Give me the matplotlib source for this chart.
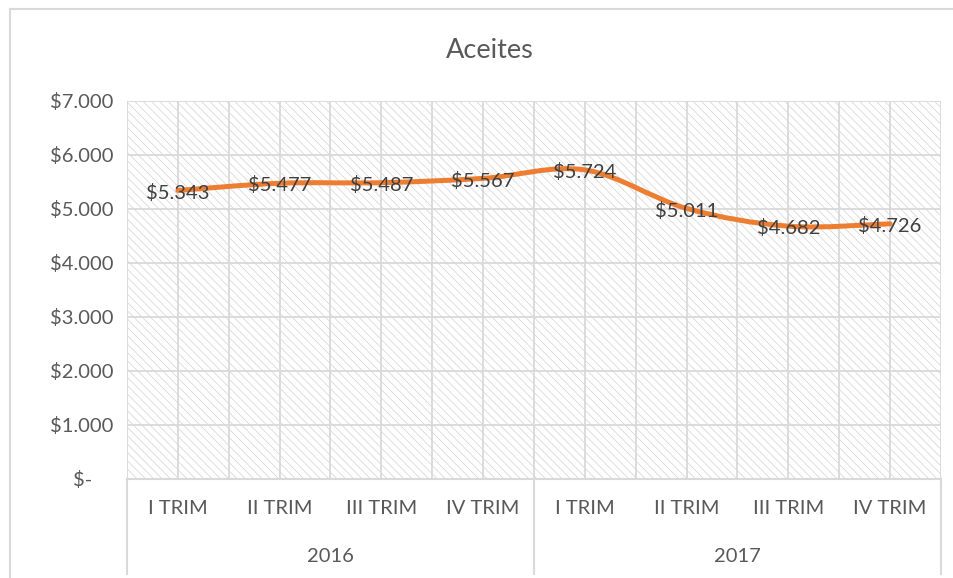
import numpy as np
import matplotlib
matplotlib.use("Agg")
import matplotlib.pyplot as plt
from matplotlib.path import Path
from matplotlib.patches import PathPatch, Rectangle
from matplotlib.lines import Line2D
import matplotlib.transforms as mtransforms

quarters = ["I TRIM", "II TRIM", "III TRIM", "IV TRIM",
            "I TRIM", "II TRIM", "III TRIM", "IV TRIM"]
years = ["2016", "2017"]
values = [5343, 5477, 5487, 5567, 5724, 5011, 4682, 4726]
yticks = [0, 1000, 2000, 3000, 4000, 5000, 6000, 7000]

TXT = "#595959"
GRID = "#d9d9d9"
ORANGE = "#ED7D31"

plt.rcParams['font.family'] = ['Lato', 'DejaVu Sans']
plt.rcParams['hatch.linewidth'] = 0.5


def money(v):
    if v == 0:
        return "$-    "
    return "$" + f"{int(v):,}".replace(",", ".")


# smoothed line like excel: cubic bezier through the points
def smooth_path(xs, ys):
    pts = np.column_stack([xs, ys]).astype(float)
    n = len(pts)
    verts = [pts[0]]
    codes = [Path.MOVETO]
    for i in range(n - 1):
        p0 = pts[i - 1] if i > 0 else pts[i]
        p1 = pts[i]
        p2 = pts[i + 1]
        p3 = pts[i + 2] if i + 2 < n else pts[i + 1]
        c1 = p1 + (p2 - p0) / 6.0
        c2 = p2 - (p3 - p1) / 6.0
        verts += [c1, c2, p2]
        codes += [Path.CURVE4] * 3
    return Path(verts, codes)


fig = plt.figure(figsize=(9.54, 5.78), dpi=100)
ax = fig.add_axes([127 / 954, 1 - 479 / 578, (941 - 127) / 954, 378 / 578])

x = np.arange(len(values))
ax.set_xlim(-0.5, len(values) - 0.5)
ax.set_ylim(0, 7000)

# hatched plot area
bg = Rectangle((0, 0), 1, 1, transform=ax.transAxes, facecolor="white",
               edgecolor="#d2d2d2", linewidth=0, hatch="\\\\\\\\", zorder=0)
ax.add_patch(bg)

for s in ax.spines.values():
    s.set_visible(False)
ax.spines['bottom'].set_visible(True)
ax.spines['bottom'].set_color(GRID)
ax.spines['bottom'].set_linewidth(1.5)

# gridlines
for yv in yticks[1:]:
    ax.axhline(yv, color=GRID, lw=1.3, zorder=1)
for xv in np.arange(-0.5, len(values), 0.5):
    ax.axvline(xv, color=GRID, lw=1.3, zorder=1)

ax.set_yticks(yticks)
ax.set_yticklabels([money(v) for v in yticks])
ax.set_xticks(x)
ax.set_xticklabels(quarters)
ax.tick_params(length=0, colors=TXT, labelsize=14.5)
ax.tick_params(axis='y', pad=10)
ax.tick_params(axis='x', pad=15)

line = PathPatch(smooth_path(x, values), facecolor="none", edgecolor=ORANGE,
                 lw=3.6, capstyle="round", joinstyle="round", zorder=3)
ax.add_patch(line)

for xi, v in zip(x, values):
    ax.text(xi, v - 40, money(v), ha="center", va="center", fontsize=14.5,
            color="#404040", zorder=4)

# multi-level category axis
trans = mtransforms.blended_transform_factory(ax.transData, ax.transAxes)
for xv in [-0.5, 3.5, 7.5]:
    ax.add_line(Line2D([xv, xv], [0, -0.25], transform=trans, color=GRID,
                       lw=1.5, clip_on=False))
for i, yr in enumerate(years):
    ax.text(1.5 + 4 * i, -0.206, yr, transform=trans, ha="center",
            va="center", fontsize=14.5, color=TXT)

# chart border
fig.add_artist(Line2D([10 / 954, 10 / 954], [0, 1 - 9 / 578],
                      transform=fig.transFigure, color=GRID, lw=1.5))
fig.add_artist(Line2D([10 / 954, 1], [1 - 9 / 578, 1 - 9 / 578],
                      transform=fig.transFigure, color=GRID, lw=1.5))

fig.text(490 / 954, 1 - 50 / 578, "Aceites", ha="center", va="center",
         fontsize=19.5, color=TXT)

fig.savefig("out.png", dpi=100)
